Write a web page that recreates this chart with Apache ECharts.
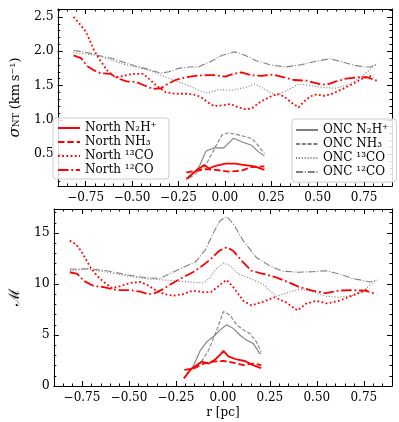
<!DOCTYPE html>
<html>
<head>
<meta charset="utf-8">
<script src="https://cdn.jsdelivr.net/npm/echarts@6/dist/echarts.min.js"></script>
<style>
  html, body { margin: 0; padding: 0; background: #fff; }
  #main { width: 399px; height: 422px; }
</style>
</head>
<body>
<div id="main"></div>
<script>
// ---- top panel: sigma_NT (km/s) ----
const rTopNorthN2H = [-0.208,-0.173,-0.138,-0.112,-0.085,-0.05,0.003,0.055,0.108,0.16,0.213];
const sTopNorthN2H = [0.135,0.22,0.29,0.34,0.29,0.33,0.36,0.36,0.34,0.32,0.27];
const rTopNorthNH3 = [-0.208,-0.155,-0.103,-0.05,0.02,0.09,0.143,0.213];
const sTopNorthNH3 = [0.235,0.255,0.28,0.27,0.245,0.26,0.31,0.32];
const rTopNorth13 = [-0.815,-0.783,-0.748,-0.72,-0.704,-0.678,-0.634,-0.59,-0.546,-0.494,-0.44,-0.41,-0.37,-0.318,-0.266,-0.204,-0.155,-0.129,-0.094,-0.059,-0.015,0.029,0.073,0.117,0.152,0.196,0.239,0.283,0.318,0.354,0.397,0.424,0.459,0.494,0.538,0.58,0.634,0.687,0.74,0.8];
const sTopNorth13 = [2.5,2.40,2.28,2.11,2.01,1.89,1.72,1.62,1.64,1.67,1.67,1.60,1.50,1.40,1.38,1.38,1.36,1.33,1.26,1.20,1.21,1.23,1.18,1.15,1.18,1.27,1.33,1.38,1.34,1.26,1.18,1.26,1.34,1.37,1.35,1.38,1.45,1.52,1.60,1.65];
const rTopNorth12 = [-0.815,-0.775,-0.74,-0.704,-0.67,-0.617,-0.573,-0.529,-0.476,-0.433,-0.388,-0.345,-0.31,-0.266,-0.213,-0.16,-0.103,-0.05,0.003,0.046,0.09,0.143,0.196,0.257,0.318,0.371,0.441,0.511,0.546,0.599,0.652,0.722,0.766,0.818];
const sTopNorth12 = [1.94,1.90,1.78,1.72,1.68,1.67,1.60,1.56,1.55,1.50,1.45,1.46,1.52,1.58,1.62,1.64,1.65,1.65,1.63,1.67,1.69,1.65,1.64,1.66,1.62,1.58,1.57,1.52,1.51,1.56,1.60,1.62,1.62,1.57];
const rTopOncN2H = [-0.2,-0.17,-0.138,-0.103,-0.059,-0.006,0.02,0.046,0.09,0.143,0.178,0.213];
const sTopOncN2H = [0.135,0.22,0.32,0.54,0.59,0.59,0.66,0.73,0.68,0.63,0.54,0.47];
const rTopOncNH3 = [-0.19,-0.15,-0.103,-0.05,-0.015,0.02,0.073,0.143,0.178,0.213];
const sTopOncNH3 = [0.15,0.23,0.34,0.61,0.78,0.81,0.78,0.73,0.63,0.51];
const rTopOnc13 = [-0.815,-0.687,-0.546,-0.406,-0.336,-0.266,-0.196,-0.125,-0.094,-0.033,0.038,0.108,0.16,0.213,0.275,0.336,0.397,0.459,0.529,0.599,0.669,0.722,0.775,0.818];
const sTopOnc13 = [1.98,1.94,1.81,1.72,1.64,1.57,1.50,1.41,1.39,1.44,1.43,1.47,1.52,1.45,1.35,1.43,1.52,1.50,1.47,1.46,1.52,1.60,1.72,1.81];
const rTopOnc12 = [-0.815,-0.757,-0.687,-0.617,-0.546,-0.476,-0.406,-0.345,-0.301,-0.248,-0.196,-0.143,-0.085,-0.015,0.055,0.108,0.169,0.248,0.327,0.406,0.485,0.564,0.625,0.687,0.748,0.783,0.818];
const sTopOnc12 = [2.01,1.99,1.94,1.90,1.84,1.78,1.73,1.68,1.70,1.75,1.77,1.77,1.84,1.94,1.99,1.94,1.86,1.80,1.77,1.80,1.85,1.89,1.85,1.80,1.77,1.77,1.81];

// ---- bottom panel: Mach number ----
const rBotNorthN2H = [-0.208,-0.173,-0.138,-0.112,-0.076,-0.041,-0.015,0.003,0.029,0.073,0.117,0.16,0.204];
const mBotNorthN2H = [0.75,1.57,2.05,2.4,2.2,2.6,3.05,3.45,2.9,2.6,2.45,2.05,1.75];
const rBotNorthNH3 = [-0.205,-0.155,-0.103,-0.05,0.003,0.055,0.108,0.16,0.204];
const mBotNorthNH3 = [1.57,1.73,2.2,2.4,2.45,2.3,2.05,2.2,2.05];
const rBotNorth13 = [-0.815,-0.783,-0.757,-0.73,-0.704,-0.67,-0.634,-0.59,-0.546,-0.494,-0.44,-0.397,-0.354,-0.31,-0.266,-0.213,-0.16,-0.108,-0.064,-0.029,0.003,0.02,0.064,0.108,0.152,0.213,0.275,0.336,0.397,0.441,0.494,0.555,0.617,0.687,0.757,0.78];
const mBotNorth13 = [14.25,13.9,13.3,12.45,11.6,10.8,10.2,9.6,9.8,10.1,10.2,9.85,9.35,9.0,8.85,9.0,9.35,9.2,9.2,9.7,10.2,10.4,9.5,8.35,7.9,8.25,8.7,8.2,7.4,8.05,8.35,8.1,8.35,8.85,9.35,9.5];
const rBotNorth12 = [-0.815,-0.775,-0.74,-0.687,-0.634,-0.564,-0.494,-0.44,-0.397,-0.362,-0.318,-0.266,-0.213,-0.16,-0.108,-0.064,-0.02,0.02,0.055,0.099,0.152,0.213,0.283,0.345,0.406,0.476,0.546,0.617,0.687,0.757,0.818];
const mBotNorth12 = [11.15,11.0,10.3,9.8,9.7,9.4,9.4,9.25,9.0,9.1,9.5,10.1,10.65,11.15,11.8,12.45,13.25,13.6,13.25,12.3,11.3,11.0,10.65,10.2,9.7,9.35,9.1,9.35,9.4,9.35,9.0];
const rBotOncN2H = [-0.2,-0.155,-0.12,-0.085,-0.05,-0.015,0.02,0.055,0.09,0.125,0.16,0.196,0.204];
const mBotOncN2H = [0.9,2.05,3.5,4.35,4.85,5.5,6.0,5.65,5.0,4.5,4.2,3.2,3.2];
const rBotOncNH3 = [-0.2,-0.173,-0.12,-0.076,-0.032,0.003,0.038,0.073,0.108,0.143,0.178,0.204];
const mBotOncNH3 = [0.9,1.73,2.2,3.5,5.5,7.3,6.95,6.0,5.5,5.15,4.35,3.35];
const rBotOnc13 = [-0.815,-0.72,-0.617,-0.511,-0.406,-0.318,-0.248,-0.178,-0.108,-0.073,-0.038,0.003,0.038,0.081,0.143,0.213,0.283,0.354,0.406,0.476,0.546,0.617,0.687,0.757,0.818];
const mBotOnc13 = [11.3,11.45,11.15,10.8,10.5,10.4,10.3,10.2,10.1,10.5,11.45,12.05,11.8,11.0,10.55,10.0,8.8,9.2,9.5,9.25,8.8,8.7,8.85,9.5,10.4];
const rBotOnc12 = [-0.815,-0.72,-0.617,-0.511,-0.406,-0.336,-0.266,-0.196,-0.143,-0.09,-0.05,-0.015,0.02,0.055,0.108,0.178,0.248,0.318,0.406,0.476,0.546,0.617,0.687,0.757,0.783,0.818];
const mBotOnc12 = [11.45,11.5,11.3,10.9,10.6,10.55,11.15,11.75,12.2,13.45,15.05,16.2,16.6,15.9,14.25,12.6,11.8,11.25,11.15,11.2,11.3,11.0,10.55,10.3,10.2,10.4];

// tick labels
const xTicks = [-0.75, -0.5, -0.25, 0, 0.25, 0.5, 0.75];
const sigmaTicks = [0.5, 1.0, 1.5, 2.0, 2.5];
const machTicks = [0, 5, 10, 15];

const legendNorth = ['North N\u2082H\u207A', 'North NH\u2083', 'North \u00B9\u00B3CO', 'North \u00B9\u00B2CO'];
const legendOnc = ['ONC N\u2082H\u207A', 'ONC NH\u2083', 'ONC \u00B9\u00B3CO', 'ONC \u00B9\u00B2CO'];

const FONT = 'DejaVu Serif';
const RED = '#ff0000', GREY = '#808080';

function steps(a, b, s) {
  const out = [];
  for (let v = a; v <= b + 1e-9; v += s) out.push(Math.round(v * 1000) / 1000);
  return out;
}
const xMinor = steps(-0.85, 0.85, 0.05);
const sigmaMinor = steps(0.1, 2.6, 0.1);
const machMinor = steps(1, 17, 1);

const minus = s => s.replace('-', '\u2212');
const frame = { show: true, onZero: false, lineStyle: { color: '#000', width: 1 } };
const noLine = { show: false, onZero: false };

function xAxes(gi, name) {
  const base = { type: 'value', gridIndex: gi, min: -0.9, max: 0.9, splitLine: { show: false } };
  return [
    Object.assign({}, base, {
      position: 'bottom', axisLine: frame,
      axisTick: { inside: true, length: 5, customValues: xTicks, lineStyle: { color: '#000' } },
      axisLabel: { customValues: xTicks, margin: 6, fontFamily: FONT, fontSize: 12, color: '#000',
        formatter: v => minus(v.toFixed(2)) },
      name: name || '', nameLocation: 'middle', nameGap: 21,
      nameTextStyle: { fontFamily: FONT, fontSize: 12, color: '#000' }
    }),
    Object.assign({}, base, { position: 'bottom', axisLine: noLine,
      axisTick: { inside: true, length: 2.5, customValues: xMinor, lineStyle: { color: '#000' } },
      axisLabel: { show: false } }),
    Object.assign({}, base, { position: 'top', axisLine: frame,
      axisTick: { inside: true, length: 5, customValues: xTicks, lineStyle: { color: '#000' } },
      axisLabel: { show: false } }),
    Object.assign({}, base, { position: 'top', axisLine: noLine,
      axisTick: { inside: true, length: 2.5, customValues: xMinor, lineStyle: { color: '#000' } },
      axisLabel: { show: false } })
  ];
}

function yAxes(gi, min, max, major, minor, fmt, name, nameStyle, nameGap) {
  const base = { type: 'value', gridIndex: gi, min: min, max: max, splitLine: { show: false } };
  return [
    Object.assign({}, base, {
      position: 'left', axisLine: frame,
      axisTick: { inside: true, length: 5, customValues: major, lineStyle: { color: '#000' } },
      axisLabel: { customValues: major, margin: 4, fontFamily: FONT, fontSize: 12.5, color: '#000', formatter: fmt },
      name: name, nameLocation: 'middle', nameRotate: 90, nameGap: nameGap, nameTextStyle: nameStyle
    }),
    Object.assign({}, base, { position: 'left', axisLine: noLine,
      axisTick: { inside: true, length: 2.5, customValues: minor, lineStyle: { color: '#000' } },
      axisLabel: { show: false } }),
    Object.assign({}, base, { position: 'right', axisLine: frame,
      axisTick: { inside: true, length: 5, customValues: major, lineStyle: { color: '#000' } },
      axisLabel: { show: false } }),
    Object.assign({}, base, { position: 'right', axisLine: noLine,
      axisTick: { inside: true, length: 2.5, customValues: minor, lineStyle: { color: '#000' } },
      axisLabel: { show: false } })
  ];
}

function zip(xs, ys) { return xs.map((x, i) => [x, ys[i]]); }

function line(name, panel, xs, ys, color, width, dash) {
  return {
    name: name, type: 'line', xAxisIndex: panel * 4, yAxisIndex: panel * 4,
    data: zip(xs, ys), symbol: 'none', showSymbol: false, animation: false, silent: true,
    lineStyle: { color: color, width: width, type: dash },
    itemStyle: { color: color }
  };
}

// matplotlib-like dash patterns
const redW = 1.8, greyW = 1.1;
const rSolid = 'solid', rDash = [6.5, 2.8], rDot = [1.8, 2.4], rDashDot = [10.5, 2.8, 1.8, 2.8];
const gDash = [4, 1.8], gDot = [1.1, 1.8], gDashDot = [7, 1.8, 1.1, 1.8];

const series = [];
[[0, rTopNorthN2H, sTopNorthN2H, rTopNorthNH3, sTopNorthNH3, rTopNorth13, sTopNorth13, rTopNorth12, sTopNorth12,
      rTopOncN2H, sTopOncN2H, rTopOncNH3, sTopOncNH3, rTopOnc13, sTopOnc13, rTopOnc12, sTopOnc12],
 [1, rBotNorthN2H, mBotNorthN2H, rBotNorthNH3, mBotNorthNH3, rBotNorth13, mBotNorth13, rBotNorth12, mBotNorth12,
      rBotOncN2H, mBotOncN2H, rBotOncNH3, mBotOncNH3, rBotOnc13, mBotOnc13, rBotOnc12, mBotOnc12]
].forEach(p => {
  const k = p[0];
  series.push(line(legendOnc[0], k, p[9], p[10], GREY, greyW, rSolid));
  series.push(line(legendOnc[1], k, p[11], p[12], GREY, greyW, gDash));
  series.push(line(legendOnc[2], k, p[13], p[14], GREY, greyW, gDot));
  series.push(line(legendOnc[3], k, p[15], p[16], GREY, greyW, gDashDot));
  series.push(line(legendNorth[0], k, p[1], p[2], RED, redW, rSolid));
  series.push(line(legendNorth[1], k, p[3], p[4], RED, redW, rDash));
  series.push(line(legendNorth[2], k, p[5], p[6], RED, redW, rDot));
  series.push(line(legendNorth[3], k, p[7], p[8], RED, redW, rDashDot));
});

const legendBase = {
  orient: 'vertical', itemWidth: 22, itemHeight: 10, itemGap: 2,
  borderColor: '#cccccc', borderWidth: 1, borderRadius: 3,
  backgroundColor: 'rgba(255,255,255,0.85)',
  itemStyle: { opacity: 0 },
  textStyle: { fontFamily: FONT, fontSize: 12, color: '#000', lineHeight: 12 }
};

const chart = echarts.init(document.getElementById('main'));
chart.setOption({
  animation: false,
  backgroundColor: '#fff',
  grid: [
    { left: 49, right: 7, top: 9, height: 177 },
    { left: 49, right: 7, top: 209, height: 177 }
  ],
  legend: [
    Object.assign({}, legendBase, { data: legendNorth, left: 53, top: 118, padding: [4, 12, 3, 4] }),
    Object.assign({}, legendBase, { data: legendOnc, left: 292, top: 119, padding: [5, 8, 4, 3] })
  ],
  xAxis: xAxes(0, '').concat(xAxes(1, 'r [pc]')),
  yAxis: yAxes(0, 0.035, 2.615, sigmaTicks, sigmaMinor, v => v.toFixed(1),
      '{i|\u03C3}{sub|NT}{t| (km\u2009s\u207B\u00B9)}',
      { fontFamily: FONT, fontSize: 12, color: '#000',
        rich: { i: { fontStyle: 'italic', fontSize: 15, fontFamily: FONT, padding: [0, 0, 3, 0] },
                sub: { fontSize: 9, fontFamily: FONT },
                t: { fontSize: 13, fontFamily: FONT, padding: [0, 0, 3, 0] } } }, 25)
    .concat(yAxes(1, 0, 17.35, machTicks, machMinor, v => String(v), '\u2133',
      { fontFamily: 'DejaVu Serif', fontSize: 15, color: '#000' }, 29)),
  series: series
});
</script>
</body>
</html>
